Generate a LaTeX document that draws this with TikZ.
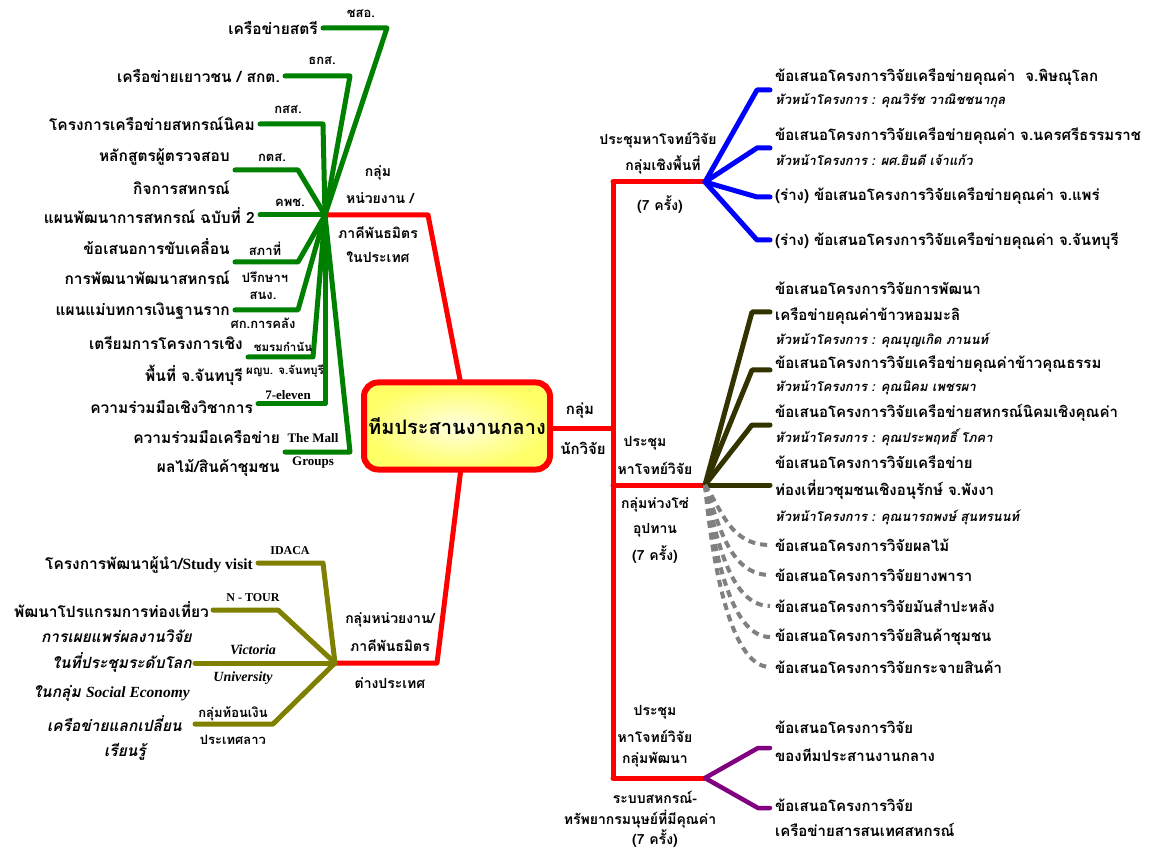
\documentclass[tikz,border=0pt]{standalone}
\usepackage{fontspec}
\setmainfont[Script=Thai]{Loma}
\newfontfamily\latf{Liberation Serif}
\usetikzlibrary{calc}
\definecolor{mred}{RGB}{255,0,0}
\definecolor{mgreen}{RGB}{0,128,0}
\definecolor{mblue}{RGB}{0,0,255}
\definecolor{mdark}{RGB}{51,51,0}
\definecolor{molive}{RGB}{128,128,0}
\definecolor{mgray}{RGB}{128,128,128}
\definecolor{mpurple}{RGB}{128,0,128}
\tikzset{
  lnbase/.style={line width=5pt, line join=round, line cap=round},
  redl/.style={lnbase, draw=mred},
  grnl/.style={lnbase, draw=mgreen},
  blul/.style={lnbase, draw=mblue},
  drkl/.style={lnbase, draw=mdark},
  olvl/.style={lnbase, draw=molive},
  gryl/.style={line width=4pt, draw=mgray, dash pattern=on 7pt off 5pt},
  purl/.style={lnbase, line width=4.5pt, draw=mpurple},
  txt/.style={font=\fontsize{15.5}{18}\selectfont\bfseries, inner sep=0pt},
  lt/.style={txt, anchor=east},
  rt/.style={txt, font=\fontsize{15}{18}\selectfont\bfseries, anchor=west},
  lab/.style={font=\fontsize{14}{16}\selectfont\bfseries, inner sep=0pt},
  smalllab/.style={font=\fontsize{13}{15}\selectfont\bfseries, inner sep=0pt},
  tinylab/.style={font=\fontsize{11.5}{13}\selectfont\bfseries, inner sep=0pt},
  latlab/.style={font=\latf\fontsize{13}{15}\selectfont\bfseries, inner sep=0pt},
  subl/.style={font=\fontsize{13}{15}\selectfont\bfseries\itshape, inner sep=0pt, anchor=west},
  ital/.style={txt, font=\fontsize{15.5}{18}\selectfont\bfseries\itshape},
  cbox/.style={draw=mred, line width=6pt, rounded corners=14pt, minimum width=186pt,
    minimum height=87pt, inner color=yellow!12, outer color=yellow!60,
    font=\fontsize{20}{24}\selectfont\bfseries}
}
\begin{document}
\begin{tikzpicture}[x=1pt,y=-1pt]
\useasboundingbox[fill=white] (0,0) rectangle (1160,850);
% junctions
\coordinate (J1) at (325,215);
\coordinate (J2) at (335,663);
\coordinate (B) at (705,182);
\coordinate (D) at (705,485);
\coordinate (P) at (705,778);
\coordinate (R1) at (613,182);
\coordinate (R2) at (613,485);
\coordinate (R3) at (613,778);
\coordinate (RC) at (613,428);
\coordinate (TopK) at (428,215);
\coordinate (TopE) at (463,395);
\coordinate (BotK) at (437,663);
\coordinate (BotE) at (462,460);
% red trunk
\draw[redl] (J1) -- (TopK) -- (TopE);
\draw[redl] (J2) -- (BotK) -- (BotE);
\draw[redl] (457,428) -- (RC);
\draw[redl] (R1) -- (R3);
\draw[redl] (R1) -- (B);
\draw[redl] (R2) -- (D);
\draw[redl] (R3) -- (P);
% central node
\node[cbox] (C) at (457,426) {ทีมประสานงานกลาง};
% ---------- green branches ----------
\coordinate (g1c) at (387,28);  \coordinate (g1e) at (323,28);
\coordinate (g2c) at (350,76);  \coordinate (g2e) at (285,76);
\coordinate (g3c) at (323,124); \coordinate (g3e) at (260,124);
\coordinate (g4c) at (298,170); \coordinate (g4e) at (235,170);
\coordinate (g5e) at (260,215);
\coordinate (g6c) at (298,262); \coordinate (g6e) at (235,262);
\coordinate (g7c) at (298,310); \coordinate (g7e) at (235,310);
\coordinate (g8c) at (313,357); \coordinate (g8e) at (248,357);
\coordinate (g9c) at (325,404); \coordinate (g9e) at (258,404);
\coordinate (g10c) at (350,452); \coordinate (g10e) at (285,452);
\foreach \i in {1,2,3,4,6,7,8,9,10}{\draw[grnl] (g\i e) -- (g\i c) -- (J1);}
\draw[grnl] (g5e) -- (J1);
% ---------- olive branches ----------
\coordinate (o1c) at (323,563); \coordinate (o1e) at (258,563);
\coordinate (o2c) at (278,610); \coordinate (o2e) at (213,610);
\coordinate (o3e) at (195,663);
\coordinate (o4c) at (273,724); \coordinate (o4e) at (195,724);
\draw[olvl] (o1e) -- (o1c) -- (J2);
\draw[olvl] (o2e) -- (o2c) -- (J2);
\draw[olvl] (o3e) -- (J2);
\draw[olvl] (o4e) -- (o4c) -- (J2);
% ---------- blue branches ----------
\coordinate (b1c) at (757,90);  \coordinate (b1e) at (770,90);
\coordinate (b2c) at (757,148); \coordinate (b2e) at (770,148);
\coordinate (b3c) at (757,197); \coordinate (b3e) at (770,197);
\coordinate (b4c) at (757,240); \coordinate (b4e) at (770,240);
\foreach \i in {1,2,3,4}{\draw[blul] (B) -- (b\i c) -- (b\i e);}
% ---------- dark branches ----------
\coordinate (d1c) at (752,312); \coordinate (d1e) at (770,312);
\coordinate (d2c) at (752,370); \coordinate (d2e) at (770,370);
\coordinate (d3c) at (752,425); \coordinate (d3e) at (770,425);
\coordinate (d4e) at (770,485);
\foreach \i in {1,2,3}{\draw[drkl] (D) -- (d\i c) -- (d\i e);}
\draw[drkl] (D) -- (d4e);
% ---------- gray dashed ----------
\coordinate (e1) at (770,545);
\coordinate (e2) at (770,575);
\coordinate (e3) at (770,606);
\coordinate (e4) at (770,637);
\coordinate (e5) at (770,667);
\draw[gryl] (D) .. controls (722,510) and (730,545) .. (e1);
\draw[gryl] (D) .. controls (718,520) and (728,575) .. (e2);
\draw[gryl] (D) .. controls (715,530) and (728,606) .. (e3);
\draw[gryl] (D) .. controls (713,540) and (728,637) .. (e4);
\draw[gryl] (D) .. controls (711,550) and (728,667) .. (e5);
% ---------- purple ----------
\coordinate (p1c) at (758,748); \coordinate (p1e) at (770,748);
\coordinate (p2c) at (758,808); \coordinate (p2e) at (770,808);
\draw[purl] (P) -- (p1c) -- (p1e);
\draw[purl] (P) -- (p2c) -- (p2e);
% ---------- left green texts ----------
\node[lt] (tg1) at (318,28) {เครือข่ายสตรี};
\node[lt] (tg2) at (280,76) {เครือข่ายเยาวชน / สกต.};
\node[lt] (tg3) at (255,124) {โครงการเครือข่ายสหกรณ์นิคม};
\node[lt] (tg4a) at (230,157) {หลักสูตรผู้ตรวจสอบ};
\node[lt] (tg4b) at (230,188) {กิจการสหกรณ์};
\node[lt] (tg5) at (255,216) {แผนพัฒนาการสหกรณ์ ฉบับที่ 2};
\node[lt] (tg6a) at (230,247) {ข้อเสนอการขับเคลื่อน};
\node[lt] (tg6b) at (230,278) {การพัฒนาพัฒนาสหกรณ์};
\node[lt] (tg7) at (230,311) {แผนแม่บทการเงินฐานราก};
\node[lt] (tg8a) at (243,343) {เตรียมการโครงการเชิง};
\node[lt] (tg8b) at (243,375) {พื้นที่ จ.จันทบุรี};
\node[lt] (tg9) at (253,407) {ความร่วมมือเชิงวิชาการ};
\node[lt] (tg10a) at (280,437) {ความร่วมมือเครือข่าย};
\node[lt] (tg10b) at (280,468) {ผลไม้/สินค้าชุมชน};
% green labels
\node[smalllab] (lg1) at (361,14) {ชสอ.};
\node[smalllab] (lg2) at (322,61) {ธกส.};
\node[smalllab] (lg3) at (288,110) {กสส.};
\node[smalllab] (lg4) at (272,158) {กตส.};
\node[smalllab] (lg5) at (290,203) {คพช.};
\node[smalllab] (lg6a) at (265,249) {สภาที่};
\node[smalllab] (lg6b) at (265,277) {ปรึกษาฯ};
\node[smalllab] (lg7a) at (263,296) {สนง.};
\node[smalllab] (lg7b) at (263,323) {ศก.การคลัง};
\node[tinylab] (lg8a) at (283,347) {ชมรมกำนัน};
\node[tinylab] (lg8b) at (285,371) {ผญบ. จ.จันทบุรี};
\node[latlab] (lg9) at (288,395) {7-eleven};
\node[latlab] (lg10a) at (313,438) {The Mall};
\node[latlab] (lg10b) at (313,463) {Groups};
% branch labels
\node[lab] (L1a) at (378,173) {กลุ่ม};
\node[lab] (L1b) at (380,198) {หน่วยงาน /};
\node[lab] (L1c) at (378,233) {ภาคีพันธมิตร};
\node[lab] (L1d) at (378,257) {ในประเทศ};
\node[lab] (L2a) at (390,620) {กลุ่มหน่วยงาน/};
\node[lab] (L2b) at (390,646) {ภาคีพันธมิตร};
\node[lab] (L2c) at (390,683) {ต่างประเทศ};
\node[lab, font=\fontsize{15}{18}\selectfont\bfseries] (L3a) at (580,411) {กลุ่ม};
\node[lab, font=\fontsize{15}{18}\selectfont\bfseries] (L3b) at (583,448) {นักวิจัย};
% ---------- olive texts ----------
\node[lt] (to1) at (253,565) {โครงการพัฒนาผู้นำ/{\latf Study visit}};
\node[lt] (to2) at (209,610) {พัฒนาโปรแกรมการท่องเที่ยว};
\node[ital, anchor=east] (to3a) at (192,636) {การเผยแพร่ผลงานวิจัย};
\node[ital, anchor=east] (to3b) at (192,663) {ในที่ประชุมระดับโลก};
\node[ital, anchor=east] (to3c) at (190,694) {ในกลุ่ม {\latf Social Economy}};
\node[ital, anchor=east] (to4a) at (182,724) {เครือข่ายแลกเปลี่ยน};
\node[ital] (to4b) at (125,752) {เรียนรู้};
\node[latlab, font=\latf\fontsize{12}{14}\selectfont\bfseries] (lo1) at (290,551) {IDACA};
\node[latlab, font=\latf\fontsize{12}{14}\selectfont\bfseries] (lo2) at (253,598) {N - TOUR};
\node[latlab, font=\latf\fontsize{14}{16}\selectfont\bfseries\itshape] (lo3a) at (253,650) {Victoria};
\node[latlab, font=\latf\fontsize{14}{16}\selectfont\bfseries\itshape] (lo3b) at (243,678) {University};
\node[smalllab] (lo4a) at (233,714) {กลุ่มท้อนเงิน};
\node[smalllab] (lo4b) at (233,740) {ประเทศลาว};
% ---------- blue texts ----------
\node[lab] (LBa) at (658,140) {ประชุมหาโจทย์วิจัย};
\node[lab] (LBb) at (663,165) {กลุ่มเชิงพื้นที่};
\node[lab] (LBc) at (660,205) {(7 ครั้ง)};
\node[rt] (tb1) at (775,77) {ข้อเสนอโครงการวิจัยเครือข่ายคุณค่า\ \ จ.พิษณุโลก};
\node[subl] (sb1) at (775,101) {หัวหน้าโครงการ : คุณวิรัช วาณิชชนากุล};
\node[rt] (tb2) at (775,136) {ข้อเสนอโครงการวิจัยเครือข่ายคุณค่า จ.นครศรีธรรมราช};
\node[subl] (sb2) at (775,160) {หัวหน้าโครงการ : ผศ.ยินดี เจ้าแก้ว};
\node[rt] (tb3) at (775,196) {(ร่าง) ข้อเสนอโครงการวิจัยเครือข่ายคุณค่า จ.แพร่};
\node[rt] (tb4) at (775,241) {(ร่าง) ข้อเสนอโครงการวิจัยเครือข่ายคุณค่า จ.จันทบุรี};
% ---------- dark texts ----------
\node[lab] (LDa) at (645,443) {ประชุม};
\node[lab] (LDb) at (655,468) {หาโจทย์วิจัย};
\node[lab] (LDc) at (655,505) {กลุ่มห่วงโซ่};
\node[lab] (LDd) at (655,530) {อุปทาน};
\node[lab] (LDe) at (655,555) {(7 ครั้ง)};
\node[rt] (td1a) at (775,288) {ข้อเสนอโครงการวิจัยการพัฒนา};
\node[rt] (td1b) at (775,316) {เครือข่ายคุณค่าข้าวหอมมะลิ};
\node[subl] (sd1) at (775,340) {หัวหน้าโครงการ : คุณบุญเกิด ภานนท์};
\node[rt] (td2) at (775,364) {ข้อเสนอโครงการวิจัยเครือข่ายคุณค่าข้าวคุณธรรม};
\node[subl] (sd2) at (775,388) {หัวหน้าโครงการ : คุณนิคม เพชรผา};
\node[rt] (td3) at (775,413) {ข้อเสนอโครงการวิจัยเครือข่ายสหกรณ์นิคมเชิงคุณค่า};
\node[subl] (sd3) at (775,437) {หัวหน้าโครงการ : คุณประพฤทธิ์ โภคา};
\node[rt] (td4a) at (775,462) {ข้อเสนอโครงการวิจัยเครือข่าย};
\node[rt] (td4b) at (775,490) {ท่องเที่ยวชุมชนเชิงอนุรักษ์ จ.พังงา};
\node[subl] (sd4) at (775,517) {หัวหน้าโครงการ : คุณนารถพงษ์ สุนทรนนท์};
% gray texts
\node[rt] (te1) at (775,545) {ข้อเสนอโครงการวิจัยผลไม้};
\node[rt] (te2) at (775,575) {ข้อเสนอโครงการวิจัยยางพารา};
\node[rt] (te3) at (775,606) {ข้อเสนอโครงการวิจัยมันสำปะหลัง};
\node[rt] (te4) at (775,637) {ข้อเสนอโครงการวิจัยสินค้าชุมชน};
\node[rt] (te5) at (775,667) {ข้อเสนอโครงการวิจัยกระจายสินค้า};
% ---------- purple texts ----------
\node[lab] (LPa) at (655,712) {ประชุม};
\node[lab] (LPb) at (655,736) {หาโจทย์วิจัย};
\node[lab] (LPc) at (655,760) {กลุ่มพัฒนา};
\node[lab] (LPd) at (655,797) {ระบบสหกรณ์-};
\node[lab] (LPe) at (640,819) {ทรัพยากรมนุษย์ที่มีคุณค่า};
\node[lab] (LPf) at (655,839) {(7 ครั้ง)};
\node[rt] (tp1a) at (775,727) {ข้อเสนอโครงการวิจัย};
\node[rt] (tp1b) at (775,755) {ของทีมประสานงานกลาง};
\node[rt] (tp2a) at (775,805) {ข้อเสนอโครงการวิจัย};
\node[rt] (tp2b) at (775,830) {เครือข่ายสารสนเทศสหกรณ์};
\end{tikzpicture}
\end{document}
